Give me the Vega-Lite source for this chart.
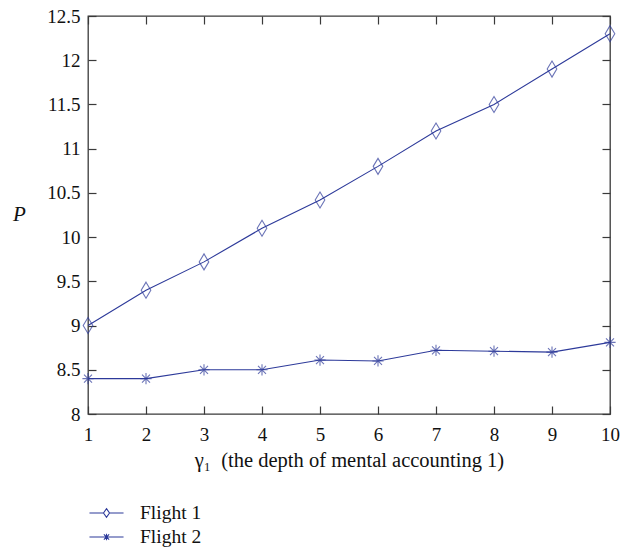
{
  "$schema": "https://vega.github.io/schema/vega-lite/v6.json",
  "width": 522,
  "height": 398,
  "autosize": "none",
  "padding": {"left": 88, "top": 16, "right": 19, "bottom": 136},
  "background": "white",
  "config": {
    "font": "Liberation Serif",
    "view": {"stroke": "#3a3a3a", "strokeWidth": 1.3},
    "axis": {
      "labelFont": "Liberation Serif",
      "titleFont": "Liberation Serif",
      "labelFontSize": 19,
      "titleFontSize": 20.5,
      "labelColor": "#111111",
      "titleColor": "#111111",
      "titleFontWeight": "normal",
      "domain": false,
      "grid": false,
      "tickColor": "#3a3a3a",
      "tickWidth": 1.2,
      "labelFlush": false,
      "labelOverlap": false
    }
  },
  "data": {
    "values": [
      {"x": 1, "P": 9.0, "series": "Flight 1"},
      {"x": 2, "P": 9.4, "series": "Flight 1"},
      {"x": 3, "P": 9.72, "series": "Flight 1"},
      {"x": 4, "P": 10.1, "series": "Flight 1"},
      {"x": 5, "P": 10.42, "series": "Flight 1"},
      {"x": 6, "P": 10.8, "series": "Flight 1"},
      {"x": 7, "P": 11.2, "series": "Flight 1"},
      {"x": 8, "P": 11.5, "series": "Flight 1"},
      {"x": 9, "P": 11.9, "series": "Flight 1"},
      {"x": 10, "P": 12.3, "series": "Flight 1"},
      {"x": 1, "P": 8.4, "series": "Flight 2"},
      {"x": 2, "P": 8.4, "series": "Flight 2"},
      {"x": 3, "P": 8.5, "series": "Flight 2"},
      {"x": 4, "P": 8.5, "series": "Flight 2"},
      {"x": 5, "P": 8.61, "series": "Flight 2"},
      {"x": 6, "P": 8.6, "series": "Flight 2"},
      {"x": 7, "P": 8.72, "series": "Flight 2"},
      {"x": 8, "P": 8.71, "series": "Flight 2"},
      {"x": 9, "P": 8.7, "series": "Flight 2"},
      {"x": 10, "P": 8.81, "series": "Flight 2"}
    ]
  },
  "resolve": {"axis": {"x": "independent", "y": "independent"}, "scale": {"shape": "independent"}},
  "layer": [
    {
      "mark": {"type": "line", "color": "#2d3a9a", "strokeWidth": 1.1, "clip": false},
      "encoding": {
        "x": {
          "field": "x", "type": "quantitative",
          "scale": {"domain": [1, 10], "nice": false, "zero": false},
          "axis": {"values": [1,2,3,4,5,6,7,8,9,10], "tickSize": -8, "labelPadding": 19, "title": "γ₁\u00a0 (the depth of mental accounting 1)", "titleBaseline": "alphabetic", "titleY": 52}
        },
        "y": {
          "field": "P", "type": "quantitative",
          "scale": {"domain": [8, 12.5], "nice": false, "zero": false},
          "axis": {"values": [8,8.5,9,9.5,10,10.5,11,11.5,12,12.5], "format": "~g", "tickSize": -8, "labelPadding": 16, "title": "P", "titleAngle": 0, "titleFontStyle": "italic", "titleFontSize": 21, "titleAlign": "center", "titleBaseline": "middle", "titleX": -69, "titleY": 198}
        },
        "detail": {"field": "series"}
      }
    },
    {
      "mark": {"type": "point", "filled": false, "color": "#2d3a9a", "strokeWidth": 1.1, "size": 256, "clip": false},
      "encoding": {
        "x": {"field": "x", "type": "quantitative", "axis": {"orient": "top", "values": [1,2,3,4,5,6,7,8,9,10], "tickSize": -8, "labels": false, "title": null}},
        "y": {"field": "P", "type": "quantitative", "axis": {"orient": "right", "values": [8,8.5,9,9.5,10,10.5,11,11.5,12,12.5], "tickSize": -8, "labels": false, "title": null}},
        "shape": {
          "field": "series", "type": "nominal",
          "scale": {
            "domain": ["Flight 1", "Flight 2"],
            "range": ["M0,-1L0.6,0L0,1L-0.6,0Z", "M0,-0.7L0,0.7M-0.7,0L0.7,0M-0.5,-0.5L0.5,0.5M-0.5,0.5L0.5,-0.5"]
          },
          "legend": null
        }
      }
    },
    {
      "mark": {"type": "point", "filled": false, "color": "#2d3a9a", "strokeWidth": 1.1, "size": 0, "clip": false},
      "encoding": {
        "x": {"field": "x", "type": "quantitative", "axis": null},
        "y": {"field": "P", "type": "quantitative", "axis": null},
        "shape": {
          "field": "series", "type": "nominal",
          "scale": {
            "domain": ["Flight 1", "Flight 2"],
            "range": ["M-1.42,0L-0.25,0M0.25,0L1.42,0M0,-0.36L0.25,0L0,0.36L-0.25,0Z", "M-1.42,0L1.42,0M0,-0.28L0,0.28M-0.22,-0.22L0.22,0.22M-0.22,0.22L0.22,-0.22"]
          },
          "legend": {
            "title": null,
            "orient": "none",
            "legendX": 5.5,
            "legendY": 484,
            "padding": 0,
            "symbolSize": 576,
            "symbolStrokeColor": "#2d3a9a",
            "symbolFillColor": "transparent",
            "symbolStrokeWidth": 1.1,
            "symbolOpacity": 1,
            "labelFont": "Liberation Serif",
            "labelFontSize": 19.5,
            "labelColor": "#111111",
            "labelOffset": 20.5,
            "rowPadding": 1
          }
        }
      }
    }
  ]
}
